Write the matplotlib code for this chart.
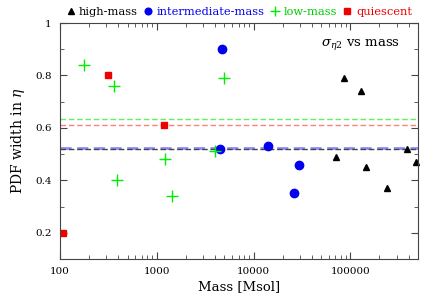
import matplotlib
matplotlib.use('Agg')
from matplotlib import pyplot as plt
from matplotlib.ticker import FuncFormatter, MultipleLocator, LogLocator

# data
high_mass = [86500, 130000, 70300, 145000, 239000, 385000, 480000]
high_w = [0.79, 0.74, 0.49, 0.45, 0.37, 0.52, 0.47]

inter_mass = [4770, 4550, 14060, 29400, 25900]
inter_w = [0.90, 0.52, 0.53, 0.46, 0.35]

low_mass = [178, 361, 392, 1230, 1450, 3980, 5000]
low_w = [0.84, 0.76, 0.40, 0.48, 0.34, 0.51, 0.79]

quies_mass = [108, 313, 1190]
quies_w = [0.20, 0.80, 0.61]

# mean widths (dashed lines)
mean_high = 0.519
mean_inter = 0.524
mean_low = 0.634
mean_quies = 0.61

plt.rcParams['font.family'] = ['DejaVu Serif']
plt.rcParams['font.size'] = 7.5
plt.rcParams['mathtext.fontset'] = 'dejavuserif'

fig = plt.figure(figsize=(4.36, 3.0), dpi=100)
ax = fig.add_axes([0.1376, 0.1367, 0.8211, 0.7866])

ax.axhline(mean_low, color='#66ee66', ls=(0, (4, 2)), lw=1.0)
ax.axhline(mean_quies, color='#ff8080', ls=(0, (4, 2)), lw=1.0)
ax.axhline(mean_inter, color='#8c8cff', ls=(0, (4, 2)), lw=2.0)
ax.axhline(mean_high, color='#444444', ls=(0, (4, 2)), lw=1.0)

ax.plot(high_mass, high_w, '^', color='black', ms=5, label='high-mass', clip_on=False)
ax.plot(inter_mass, inter_w, 'o', color='#0000ee', ms=6, label='intermediate-mass')
ax.plot(low_mass, low_w, '+', color='#00ee00', ms=9, mew=1.0, label='low-mass')
ax.plot(quies_mass, quies_w, 's', color='#ee0000', ms=5, label='quiescent')

ax.set_xscale('log')
ax.set_xlim(100, 5e5)
ax.set_ylim(0.1, 1.0)
ax.yaxis.set_major_locator(MultipleLocator(0.2))
ax.yaxis.set_minor_locator(MultipleLocator(0.1))
ax.yaxis.set_major_formatter(FuncFormatter(lambda v, p: '%g' % v))
ax.xaxis.set_major_locator(LogLocator(base=10))
ax.xaxis.set_major_formatter(FuncFormatter(lambda v, p: '%d' % v))
ax.tick_params(which='both', direction='in', top=True, right=True, color='#444444')
ax.tick_params(which='major', length=5, pad=6, labelsize=7.5)
ax.tick_params(which='minor', length=3)
for s in ax.spines.values():
    s.set_color('#444444')

ax.set_xlabel('Mass [Msol]', fontsize=9.5, labelpad=3)
ax.set_ylabel(r'PDF width in $\eta$', fontsize=10, labelpad=6)
ax.text(0.95, 0.907, r'$\sigma_{\eta2}$ vs mass', transform=ax.transAxes,
        ha='right', va='center', fontsize=9.5)

leg = ax.legend(loc='lower center', bbox_to_anchor=(0.5, 0.995), ncol=4,
                frameon=False, handlelength=0.8, handletextpad=0.35,
                columnspacing=0.5, borderaxespad=0.2, fontsize=8.2,
                markerscale=0.8)
for t, c in zip(leg.get_texts(), ['black', '#0000ee', '#00cc00', '#ee0000']):
    t.set_color(c)

plt.savefig('out.png', dpi=100)
